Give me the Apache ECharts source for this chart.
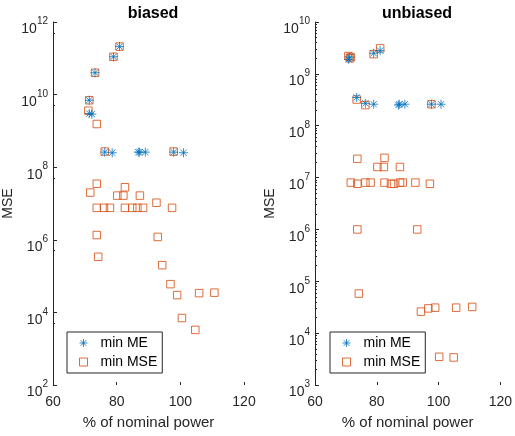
<!DOCTYPE html>
<html>
<head>
<meta charset="utf-8">
<script src="https://cdn.jsdelivr.net/npm/echarts@6/dist/echarts.min.js"></script>
<style>
  html, body { margin: 0; padding: 0; background: #fff; }
  #chart { width: 515px; height: 436px; }
</style>
</head>
<body>
<div id="chart"></div>
<script>
// biased panel
var biasedMeX = [80.9, 79.0, 73.2, 71.4, 71.4, 72.2, 76.25, 78.6, 86.8, 87.2, 89.0, 97.9, 101.0];
var biasedMeY = [2.1e11, 1.1e11, 4e10, 7e9, 3.0e9, 2.9e9, 2.6e8, 2.5e8, 2.6e8, 2.6e8, 2.6e8, 2.6e8, 2.5e8];
var biasedMseX = [80.9, 79.0, 73.2, 71.4, 71.1, 73.75, 76.25, 97.9, 73.75, 71.7, 82.6, 80.2, 82.1, 87.3, 92.5,
    73.75, 76.0, 77.9, 82.6, 84.9, 86.5, 88.3, 97.4, 73.75, 92.9, 74.2, 94.3, 96.9, 99.0, 105.9, 110.7, 100.5, 104.7];
var biasedMseY = [2.1e11, 1.1e11, 4e10, 7e9, 3.6e9, 1.55e9, 2.7e8, 2.7e8, 3.5e7, 2e7, 2.8e7, 1.65e7, 1.65e7, 1.65e7, 1.05e7,
    7.6e6, 7.6e6, 7.6e6, 7.6e6, 7.6e6, 7.6e6, 7.6e6, 7.6e6, 1.35e6, 1.2e6, 3.4e5, 2e5, 6e4, 3e4, 3.4e4, 3.5e4, 7e3, 3.3e3];

// unbiased panel
var unbiasedMeX = [71.2, 70.9, 79.0, 81.1, 73.5, 76.3, 79.0, 87.3, 87.0, 89.1, 97.7, 100.8];
var unbiasedMeY = [2.1e9, 1.9e9, 2.5e9, 2.8e9, 3.5e8, 2.7e8, 2.6e8, 2.6e8, 2.5e8, 2.6e8, 2.6e8, 2.6e8];
var unbiasedMseX = [70.8, 71.3, 71.6, 79.0, 81.1, 73.5, 76.3, 97.7, 73.7, 82.5, 80.2, 82.3, 87.5,
    71.6, 73.7, 76.3, 78.0, 82.5, 84.6, 85.6, 87.5, 88.4, 92.5, 97.2,
    73.7, 93.1, 74.2, 94.3, 96.7, 98.9, 105.7, 110.9, 100.2, 104.9];
var unbiasedMseY = [2.2e9, 2.0e9, 2.1e9, 2.4e9, 3.1e9, 3.2e8, 2.5e8, 2.6e8, 2.3e7, 2.4e7, 1.6e7, 1.6e7, 1.6e7,
    8e6, 7.6e6, 8e6, 8e6, 8e6, 7.6e6, 7.6e6, 8e6, 8e6, 8e6, 7.6e6,
    1.0e6, 1.0e6, 5.8e4, 2.6e4, 3.0e4, 3.1e4, 3.1e4, 3.2e4, 3.5e3, 3.4e3];

var titles = ['biased', 'unbiased'];
var xTicks = [60, 80, 100, 120];

var BLUE = '#0072BD', ORANGE = '#D95319', INK = '#262626';
var FONT = 'Liberation Sans';
var starPath = 'path://M0,-5L0,5M-5,0L5,0M-3.5,-3.5L3.5,3.5M-3.5,3.5L3.5,-3.5';

// log minor ticks (2..9 per decade) for the unbiased axis
var unbiasedMinor = [];
for (var e = 3; e < 10; e++) {
    for (var m = 2; m <= 9; m++) unbiasedMinor.push(m * Math.pow(10, e));
}

function zip(xs, ys) {
    return xs.map(function (x, i) { return [x, ys[i]]; });
}

function powLabel(v) {
    var e = Math.round(Math.log10(v));
    return '{b|10}{s|' + e + '}';
}

function xAxisOf(idx) {
    return {
        gridIndex: idx, type: 'value', min: 60, max: 120, interval: 20,
        name: '% of nominal power', nameLocation: 'middle', nameGap: 30,
        nameTextStyle: {fontFamily: FONT, fontSize: 15, color: INK},
        axisLine: {show: false},
        axisTick: {show: true, inside: true, length: 3, lineStyle: {color: INK}},
        axisLabel: {fontFamily: FONT, fontSize: 14, color: INK, margin: 10,
            formatter: function (v) { return xTicks.indexOf(v) >= 0 ? String(v) : ''; }},
        splitLine: {show: false}
    };
}

function yAxisOf(idx, min, max, interval, minorSplit) {
    return {
        gridIndex: idx, type: 'log', logBase: 10, min: min, max: max, interval: interval,
        position: 'left',
        name: 'MSE', nameLocation: 'middle', nameRotate: 90, nameGap: 38,
        nameTextStyle: {fontFamily: FONT, fontSize: 14, color: INK},
        axisLine: {show: true, lineStyle: {color: INK, width: 1}},
        axisTick: {show: true, inside: true, length: 4, lineStyle: {color: INK}},
        minorTick: {show: minorSplit > 1, splitNumber: minorSplit, length: 2, lineStyle: {color: INK}},
        axisLabel: {
            fontFamily: FONT, color: INK, margin: 5, padding: [9, 0, 0, 0],
            formatter: powLabel,
            rich: {
                b: {fontFamily: FONT, fontSize: 14, color: INK, lineHeight: 20, verticalAlign: 'bottom'},
                s: {fontFamily: FONT, fontSize: 10, color: INK, lineHeight: 20, verticalAlign: 'top'}
            }
        },
        splitLine: {show: false}
    };
}

function minorAxisOf(idx, min, max, values) {
    return {
        gridIndex: idx, type: 'log', logBase: 10, min: min, max: max, position: 'left',
        axisLine: {show: false},
        axisLabel: {show: false},
        axisTick: {show: true, inside: true, length: 2, customValues: values, lineStyle: {color: INK}},
        splitLine: {show: false}
    };
}

function meSeries(idx, data) {
    return {
        name: 'min ME', type: 'scatter', xAxisIndex: idx, yAxisIndex: idx,
        symbol: starPath, symbolSize: 9, data: data, z: 3,
        itemStyle: {color: 'transparent', borderColor: BLUE, borderWidth: 1}
    };
}

function mseSeries(idx, data) {
    return {
        name: 'min MSE', type: 'scatter', xAxisIndex: idx, yAxisIndex: idx,
        symbol: 'rect', symbolSize: 7.5, data: data, z: 2,
        itemStyle: {color: 'transparent', borderColor: ORANGE, borderWidth: 1, opacity: 0.85}
    };
}

function legendOf(left) {
    return {
        left: left, top: 332, orient: 'vertical',
        borderColor: INK, borderWidth: 1, padding: [4, 5, 4, 12],
        itemGap: 5, itemWidth: 8, itemHeight: 8,
        textStyle: {fontFamily: FONT, fontSize: 14, color: '#000', padding: [0, 0, 0, 8]},
        data: [{name: 'min ME', icon: starPath, itemStyle: {color: 'transparent', borderColor: BLUE, borderWidth: 1}},
            {name: 'min MSE', icon: 'rect', itemStyle: {color: 'transparent', borderColor: ORANGE, borderWidth: 1}}]
    };
}

var myChart = echarts.init(document.getElementById('chart'));

var option = {
    animation: false,
    backgroundColor: '#fff',
    title: [
        {text: titles[0], left: 148, top: 1, textAlign: 'center',
            textStyle: {fontFamily: FONT, fontSize: 16, fontWeight: 'bold', color: '#000'}},
        {text: titles[1], left: 412, top: 1, textAlign: 'center',
            textStyle: {fontFamily: FONT, fontSize: 16, fontWeight: 'bold', color: '#000'}}
    ],
    legend: [legendOf(67), legendOf(330)],
    grid: [
        {left: 52, top: 22, width: 192, height: 363},
        {left: 315, top: 22, width: 193, height: 363}
    ],
    xAxis: [xAxisOf(0), xAxisOf(1)],
    yAxis: [yAxisOf(0, 1e2, 1e12, 2, 2), yAxisOf(1, 1e3, 1e10, 1, 0),
        minorAxisOf(1, 1e3, 1e10, unbiasedMinor)],
    series: [
        mseSeries(0, zip(biasedMseX, biasedMseY)),
        meSeries(0, zip(biasedMeX, biasedMeY)),
        mseSeries(1, zip(unbiasedMseX, unbiasedMseY)),
        meSeries(1, zip(unbiasedMeX, unbiasedMeY))
    ]
};

myChart.setOption(option);
</script>
</body>
</html>
